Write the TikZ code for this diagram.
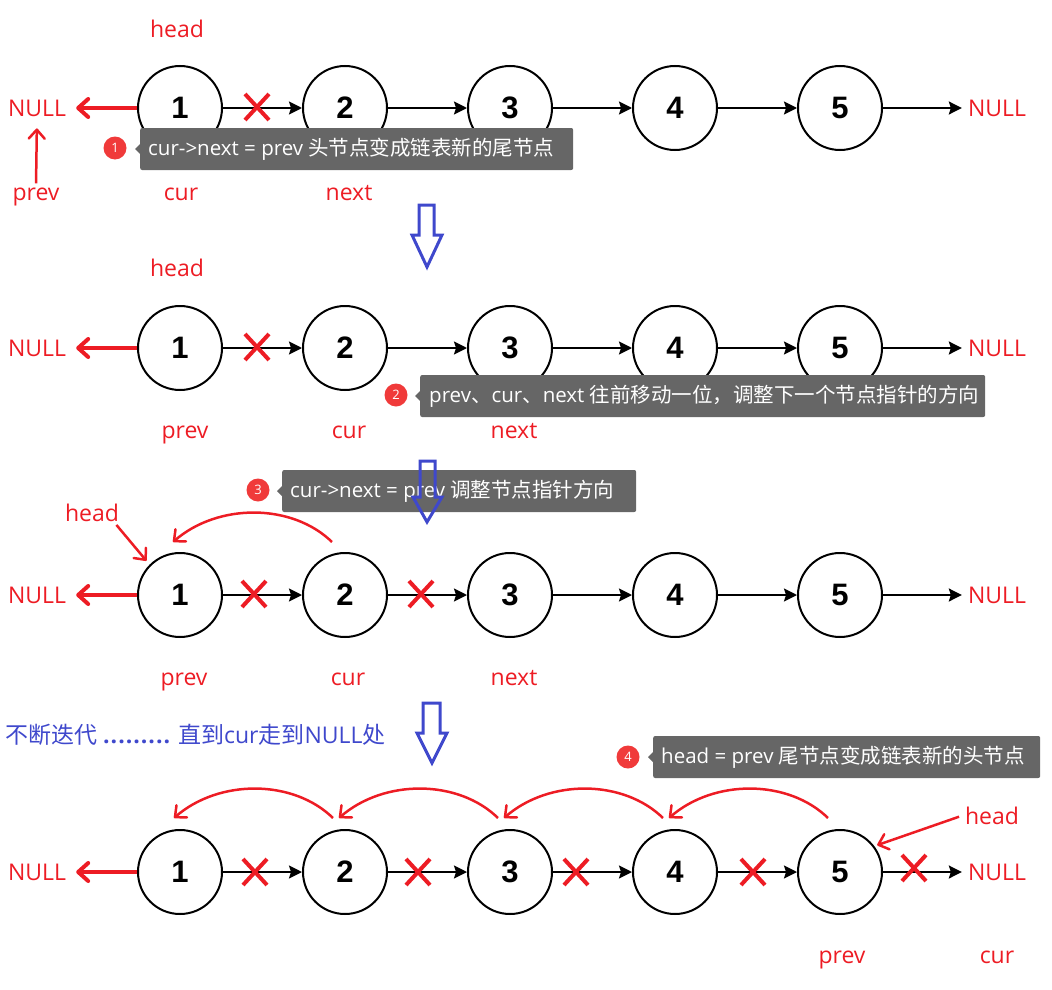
\documentclass[tikz,border=0pt]{standalone}
\usepackage{fontspec}
\setmainfont{Open Sans}
\newfontfamily\cjk{Noto Sans CJK SC}
\newfontfamily\numfont{Liberation Sans}
\usetikzlibrary{arrows.meta,calc}
\definecolor{pred}{RGB}{237,28,36}
\definecolor{pblue}{RGB}{63,72,204}
\definecolor{tipgray}{RGB}{102,102,102}
\definecolor{badgered}{RGB}{240,58,58}
\newcommand\iterdots{\textbf{.\kern1pt.\kern1pt.\kern1pt.\kern1pt.\kern1pt.\kern1pt.\kern1pt.\kern1pt.}}
\tikzset{
  listnode/.style={circle,draw=black,line width=2pt,minimum size=84pt,inner sep=0pt,
    font=\numfont\bfseries\fontsize{31}{31}\selectfont},
  lbl/.style={text=pred,inner sep=2pt,anchor=base,font=\fontsize{23}{26}\selectfont},
  link/.style={draw=black,line width=2pt,-{Stealth[length=13pt,width=13pt,inset=2pt]}},
  nullarrow/.style={draw=pred,line width=4pt,-{Straight Barb[length=10pt,width=18pt,round]}},
  ptr/.style={draw=pred,line width=2.5pt,-{Straight Barb[length=9pt,width=16pt,round]}},
  redarc/.style={draw=pred,line width=2.5pt,-{Straight Barb[length=9pt,width=16pt,round]}},
  xmark/.pic={\draw[pred,line width=4pt] (-12,-13)--(12,13) (-12,13)--(12,-13);},
  tipbox/.style={fill=tipgray,rounded corners=2pt,minimum height=42pt,anchor=west,inner sep=0pt},
  tiptext/.style={text=white,anchor=west,inner sep=0pt,font=\fontsize{20.5}{24}\selectfont},
  badge/.style={circle,fill=badgered,minimum size=23pt,inner sep=0pt,text=white,
    font=\fontsize{13}{13}\selectfont},
  hollow/.style={draw=pblue,line width=3pt,line join=miter}
}
\begin{document}
\begin{tikzpicture}[x=1pt,y=-1pt]
\useasboundingbox (0,0) rectangle (1052,990);

% four rows of the list
\foreach \r/\y in {1/108,2/348,3/595,4/872}{
  \foreach \i in {1,...,5}{
    \node[listnode] (n\r\i) at ({15+165*\i},\y) {\i};
  }
  \node[lbl] (nl\r) at (37,\y+8) {NULL};
  \node[lbl] (nr\r) at (997,\y+8) {NULL};
  \draw[nullarrow,shorten >=8pt] (n\r1) -- (n\r1 -| nl\r.east);
  \draw[link,shorten >=4pt] (n\r5) -- (n\r5 -| nr\r.west);
  \foreach \i [evaluate=\i as \j using int(\i+1)] in {1,...,4}
    \draw[link] (n\r\i) -- (n\r\j);
}

% row 1
\node[lbl] (h1) at (177,38) {head};
\node[lbl] (p1) at (36,200) {prev};
\node[lbl] (c1) at (181,200) {cur};
\node[lbl] (x1) at (349,200) {next};
\draw[ptr,shorten <=2pt,shorten >=10pt] (p1.north) -- (nl1.south);
\pic at (257,107) {xmark};
\node[tipbox,minimum width=433pt] (t1) at (140,149) {};
\fill[tipgray] ($(t1.west)+(-5,0)$) -- ($(t1.west)+(0,-5)$) -- ($(t1.west)+(0,5)$) -- cycle;
\node[tiptext] (t1t) at ($(t1.west)+(8,0)$) {cur->next = prev {\cjk 头节点变成链表新的尾节点}};
\node[badge] (b1) at (115,148) {1};

% arrow down 1
\draw[hollow] (419,205) -- (434,205) -- (434,235) -- (442,235) -- (427,267)
  -- (412,235) -- (419,235) -- cycle;

% row 2
\node[lbl] (h2) at (177,276) {head};
\node[lbl] (p2) at (185,438) {prev};
\node[lbl] (c2) at (349,438) {cur};
\node[lbl] (x2) at (514,438) {next};
\pic at (257,347) {xmark};
\node[tipbox,minimum width=565pt] (t2) at (420,396) {};
\fill[tipgray] ($(t2.west)+(-5,0)$) -- ($(t2.west)+(0,-5)$) -- ($(t2.west)+(0,5)$) -- cycle;
\node[tiptext] (t2t) at ($(t2.west)+(9,0)$) {prev{\cjk 、}cur{\cjk 、}next {\cjk 往前移动一位，调整下一个节点指针的方向}};
\node[badge] (b2) at (396,395) {2};

% row 3
\node[tipbox,minimum width=354pt] (t3) at (282,491) {};
\fill[tipgray] ($(t3.west)+(-5,0)$) -- ($(t3.west)+(0,-5)$) -- ($(t3.west)+(0,5)$) -- cycle;
\node[tiptext] (t3t) at ($(t3.west)+(8,0)$) {cur->next = prev {\cjk 调整节点指针方向}};
\node[badge] (b3) at (258,490) {3};

% arrow down 2 (drawn over the note)
\draw[hollow] (420,461) -- (435,461) -- (435,497) -- (442,497) -- (427,522)
  -- (413,497) -- (420,497) -- cycle;

\node[lbl] (h3) at (92,521) {head};
\draw[ptr,shorten <=2pt,shorten >=5pt] ([xshift=-6pt]h3.south east) -- (n31.135);
\coordinate (s32) at ($(n32)+(-13,-53)$);
\coordinate (e31) at ($(n31)+(-7,-53)$);
\draw[redarc] (s32) .. controls +(-40,-39) and +(45,-39) .. (e31);
\pic at (254,594) {xmark};
\pic at (421,594) {xmark};
\node[lbl] (p3) at (184,685) {prev};
\node[lbl] (c3) at (348,685) {cur};
\node[lbl] (x3) at (514,685) {next};

% loop note and arrow down 3
\node[text=pblue,anchor=base west,inner sep=0pt,font=\fontsize{23}{26}\selectfont] (loop) at (5,743)
  {{\cjk 不断迭代} \iterdots{} {\cjk 直到}cur{\cjk 走到}NULL{\cjk 处}};
\draw[hollow] (423,703) -- (440,703) -- (440,733) -- (447,733) -- (432,763)
  -- (417,733) -- (423,733) -- cycle;

% row 4
\node[tipbox,minimum width=387pt] (t4) at (653,757) {};
\fill[tipgray] ($(t4.west)+(-5,0)$) -- ($(t4.west)+(0,-5)$) -- ($(t4.west)+(0,5)$) -- cycle;
\node[tiptext] (t4t) at ($(t4.west)+(8,0)$) {head = prev {\cjk 尾节点变成链表新的头节点}};
\node[badge] (b4) at (628,757) {4};

\foreach \i [evaluate=\i as \j using int(\i-1)] in {2,...,5}{
  \coordinate (s4\i) at ($(n4\i)+(-12,-54)$);
  \coordinate (e4\j) at ($(n4\j)+(-6,-54)$);
  \draw[redarc] (s4\i) .. controls +(-40,-39) and +(45,-39) .. (e4\j);
}
\foreach \x/\yy in {255/872,418/872,576/872,753/872,914/868}
  \pic at (\x,\yy) {xmark};
\node[lbl] (h4) at (992,824) {head};
\draw[ptr,shorten <=4pt,shorten >=3pt] (h4.west) -- (n45.37);
\node[lbl] (p4) at (842,963) {prev};
\node[lbl] (c4) at (997,963) {cur};
\end{tikzpicture}
\end{document}
